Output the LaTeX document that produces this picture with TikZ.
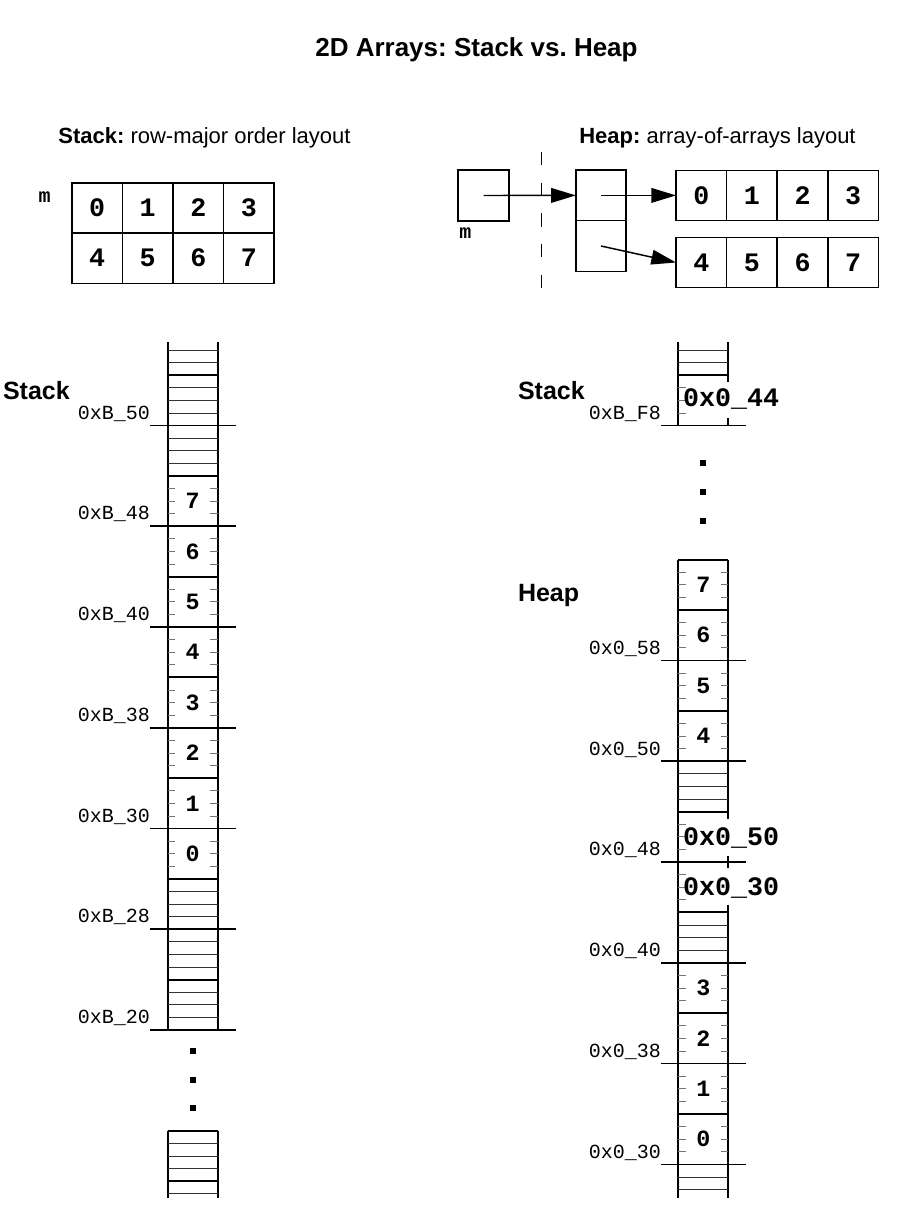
\documentclass[tikz,border=0pt]{standalone}
\usepackage{fontspec}
\setmainfont{Liberation Sans}
\newfontfamily\monofont{Liberation Mono}
\usetikzlibrary{arrows.meta}
\frenchspacing
\begin{document}
\begin{tikzpicture}[x=0.75pt,y=-0.75pt,
  every node/.style={inner sep=0pt, outer sep=0pt},
  titletext/.style={font=\bfseries\fontsize{19.5}{23}\selectfont, anchor=base},
  subtext/.style={font=\fontsize{16.5}{20}\selectfont, anchor=base},
  biglabel/.style={font=\bfseries\fontsize{18.75}{22}\selectfont, anchor=base west},
  addrlabel/.style={font=\monofont\fontsize{15}{18}\selectfont, anchor=base east},
  cellnum/.style={font=\monofont\bfseries\fontsize{17.5}{20}\selectfont},
  gridnum/.style={font=\monofont\bfseries\fontsize{20}{22}\selectfont},
  ptrtext/.style={font=\monofont\bfseries\fontsize{20}{22}\selectfont, anchor=base west},
  varname/.style={font=\monofont\bfseries\fontsize{15}{17}\selectfont},
  gridcell/.style={draw, line width=1.1pt, minimum width=37.9pt, minimum height=37.7pt},
  colframe/.style={line width=1.5pt},
  wordline/.style={line width=1.5pt},
  addrline/.style={line width=1.2pt},
  byteline/.style={line width=0.6pt, black!80},
  tickline/.style={line width=0.6pt, black!55},
  ptrarrow/.style={line width=1.1pt, -{Triangle[length=18.5pt,width=11pt]}},
  dotmark/.style={fill=black, minimum size=4.5pt},
]
\useasboundingbox (0,0) rectangle (900,1214);

% ---------- titles ----------
\node[titletext] (title) at (476.5,56.5) {2D Arrays: Stack vs. Heap};
\node[subtext] (stacksub) at (204.5,143) {\textbf{Stack:} row-major order layout};
\node[subtext] (heapsub) at (717.5,143) {\textbf{Heap:} array-of-arrays layout};

% ---------- stack 2D grid ----------
\node[varname] (mstack) at (44.7,197) {m};
\foreach \r in {0,1} \foreach \c in {0,1,2,3} {
  \pgfmathtruncatemacro\v{4*\r+\c}
  \node[gridcell, gridnum] (g\v) at ({97.25+50.5*\c},{208+50.2*\r}) {\v};
}

% ---------- heap array-of-arrays ----------
\node[gridcell, minimum width=38.25pt, minimum height=38.25pt] (mbox) at (483.5,195.5) {};
\node[varname] (mheap) at (465.3,233) {m};
\node[gridcell, minimum width=37.7pt, minimum height=38pt] (p0) at (601,195.4) {};
\node[gridcell, minimum width=37.7pt, minimum height=38pt] (p1) at (601,246) {};
\foreach \c in {0,1,2,3} {
  \pgfmathtruncatemacro\w{\c+4}
  \node[gridcell, gridnum] (a\c) at ({701.3+50.6*\c},195.4) {\c};
  \node[gridcell, gridnum] (b\c) at ({701.3+50.6*\c},262.5) {\w};
}
\coordinate (dtop) at (541.7,152);
\coordinate (dbot) at (541.7,303);
\draw[line width=0.9pt, dash pattern=on 10pt off 13pt] (dtop) -- (dbot);
\draw[ptrarrow] (mbox.center) -- (p0.west);
\draw[ptrarrow] (p0.center) -- (a0.west);
\draw[ptrarrow] (p1.center) -- (b0.west);

% ---------- big labels ----------
\node[biglabel] (stackL) at (3,399) {Stack};
\node[biglabel] (stackR) at (518,399) {Stack};
\node[biglabel] (heapL) at (518,601) {Heap};

% ---------- left stack column ----------
\draw[colframe] (167.5,342) -- (167.5,1030);
\draw[colframe] (217.5,342) -- (217.5,1030);
\foreach \a in {77,78,79,81,82,83,85,86,33,34,35,37,38,39,41,42,43} {
  \pgfmathsetmacro\yy{425.5+(80-\a)*12.594}
  \draw[byteline] (167.5,\yy) -- (217.5,\yy);
}
\foreach \a in {84,76,68,60,52,44,36} {
  \pgfmathsetmacro\yy{425.5+(80-\a)*12.594}
  \draw[wordline] (167.5,\yy) -- (217.5,\yy);
}
\foreach \w in {44,48,...,72} \foreach \k in {1,2,3} {
  \pgfmathsetmacro\yy{425.5+(80-\w-\k)*12.594}
  \draw[tickline] (167.5,\yy) -- (175.2,\yy);
  \draw[tickline] (217.5,\yy) -- (209.8,\yy);
}
\foreach \a/\l in {80/50,72/48,64/40,56/38,48/30,40/28,32/20} {
  \pgfmathsetmacro\yy{425.5+(80-\a)*12.594}
  \draw[addrline] (150,\yy) -- (235.5,\yy);
  \node[addrlabel] (la\l) at (150,{\yy-6.5}) {0xB\_\l};
}
\foreach \w/\d in {72/7,68/6,64/5,60/4,56/3,52/2,48/1,44/0} {
  \pgfmathsetmacro\yy{425.5+(78-\w)*12.594}
  \node[cellnum] (s\d) at (192.5,\yy) {\d};
}
\foreach \yy [count=\i] in {1051,1079.5,1108}
  \node[dotmark] (ldot\i) at (192.5,\yy) {};
% bottom fragment
\draw[colframe] (167.5,1130.7) -- (167.5,1198);
\draw[colframe] (217.5,1130.7) -- (217.5,1198);
\draw[wordline] (167.5,1130.7) -- (217.5,1130.7);
\draw[wordline] (167.5,1181.1) -- (217.5,1181.1);
\foreach \yy in {1143.3,1155.9,1168.5,1193.7}
  \draw[byteline] (167.5,\yy) -- (217.5,\yy);

% ---------- right column: stack fragment ----------
\draw[colframe] (678.3,342) -- (678.3,425.5);
\draw[colframe] (728.3,342) -- (728.3,382);
\draw[colframe] (728.3,418) -- (728.3,425.5);
\foreach \yy in {350.0,362.6}
  \draw[byteline] (678.3,\yy) -- (728.3,\yy);
\draw[wordline] (678.3,375.1) -- (728.3,375.1);
\foreach \yy in {387.7,400.3,412.9}
  \draw[tickline] (678.3,\yy) -- (686,\yy);
\draw[addrline] (661,425.5) -- (746,425.5);
\node[addrlabel] (lbf8) at (661,419) {0xB\_F8};
\node[ptrtext] (ptr44) at (683,406) {0x0\_44};
\foreach \yy [count=\i] in {463,491.7,520.5}
  \node[dotmark] (rdot\i) at (703.3,\yy) {};

% ---------- right column: heap ----------
\draw[colframe] (678.3,559.5) -- (678.3,1197.5);
\draw[colframe] (728.3,559.5) -- (728.3,819);
\draw[colframe] (728.3,855.7) -- (728.3,868.3);
\draw[colframe] (728.3,905) -- (728.3,1197.5);
\foreach \a in {77,78,79,65,66,67,47,46} {
  \pgfmathsetmacro\yy{660.3+(88-\a)*12.6}
  \draw[byteline] (678.3,\yy) -- (728.3,\yy);
}
\foreach \a in {96,92,84,76,68,60,52} {
  \pgfmathsetmacro\yy{660.3+(88-\a)*12.6}
  \draw[wordline] (678.3,\yy) -- (728.3,\yy);
}
\foreach \w in {92,88,84,80,60,56,52,48} \foreach \k in {1,2,3} {
  \pgfmathsetmacro\yy{660.3+(88-\w-\k)*12.6}
  \draw[tickline] (678.3,\yy) -- (686,\yy);
  \draw[tickline] (728.3,\yy) -- (720.6,\yy);
}
\foreach \w in {72,68} \foreach \k in {1,2,3} {
  \pgfmathsetmacro\yy{660.3+(88-\w-\k)*12.6}
  \draw[tickline] (678.3,\yy) -- (686,\yy);
}
\foreach \a/\l in {88/58,80/50,72/48,64/40,56/38,48/30} {
  \pgfmathsetmacro\yy{660.3+(88-\a)*12.6}
  \draw[addrline] (661,\yy) -- (746,\yy);
  \node[addrlabel] (lh\l) at (661,{\yy-6}) {0x0\_\l};
}
\foreach \w/\d in {92/7,88/6,84/5,80/4,60/3,56/2,52/1,48/0} {
  \pgfmathsetmacro\yy{660.3+(86-\w)*12.6}
  \node[cellnum] (h\d) at (703.3,\yy) {\d};
}
\node[ptrtext] (ptr50) at (683,845) {0x0\_50};
\node[ptrtext] (ptr30) at (683,895.5) {0x0\_30};
\end{tikzpicture}
\end{document}
